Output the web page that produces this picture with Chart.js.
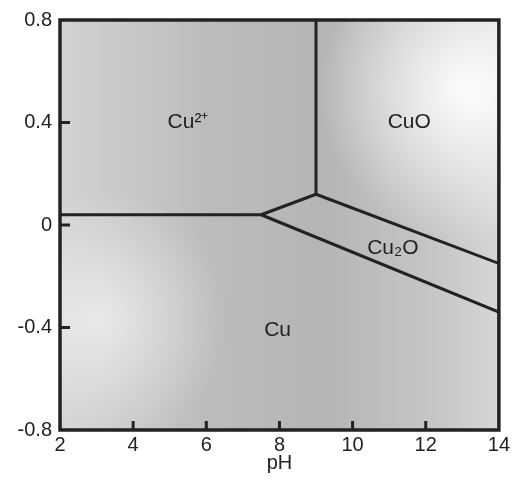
<!DOCTYPE html>
<html>
<head>
<meta charset="utf-8">
<script src="https://cdn.jsdelivr.net/npm/chart.js@4"></script>
<style>
  html, body { margin: 0; padding: 0; background: #fff; }
  #wrap { width: 513px; height: 484px; }
</style>
</head>
<body>
<div id="wrap"><canvas id="chart"></canvas></div>
<script>
// phase boundaries (pH, E in V)
const cu2CuPH = [2, 7.5];
const cu2CuE = [0.04, 0.04];
const cu2Cu2oPH = [7.5, 9.0];
const cu2Cu2oE = [0.04, 0.12];
const cu2CuoPH = [9.0, 9.0];
const cu2CuoE = [0.12, 0.8];
const cuoCu2oPH = [9.0, 14];
const cuoCu2oE = [0.12, -0.15];
const cu2oCuPH = [7.5, 14];
const cu2oCuE = [0.04, -0.34];

// region labels
const regionNames = ["Cu²⁺", "CuO", "Cu₂O", "Cu"];
const regionPH = [5.5, 11.55, 11.1, 7.95];
const regionE = [0.4, 0.4, -0.09, -0.41];

const xTicks = [2, 4, 6, 8, 10, 12, 14];
const yTicks = [-0.8, -0.4, 0, 0.4, 0.8];

const lineColor = "#222";
const textColor = "#222";
const fontFamily = "'Liberation Sans', Arial, sans-serif";

function toPoints(xs, ys) {
  return xs.map((x, i) => ({ x, y: ys[i] }));
}

function boundary(xs, ys) {
  return {
    data: toPoints(xs, ys),
    showLine: true,
    borderColor: lineColor,
    borderWidth: 3,
    pointRadius: 0,
    fill: false
  };
}

const backdrop = {
  id: "backdrop",
  beforeDraw(chart) {
    const { ctx, chartArea: a } = chart;
    const w = a.right - a.left, h = a.bottom - a.top;
    ctx.save();
    const g = ctx.createLinearGradient(a.left, 0, a.right, 0);
    g.addColorStop(0, "#d2d2d2");
    g.addColorStop(0.35, "#bbbbbb");
    g.addColorStop(0.6, "#b5b5b5");
    g.addColorStop(0.85, "#c6c6c6");
    g.addColorStop(1, "#d6d6d6");
    ctx.fillStyle = g;
    ctx.fillRect(a.left, a.top, w, h);
    const r = ctx.createRadialGradient(a.right - 30, a.top + 70, 10, a.right - 30, a.top + 70, 150);
    r.addColorStop(0, "rgba(255,255,255,0.9)");
    r.addColorStop(1, "rgba(255,255,255,0)");
    ctx.fillStyle = r;
    ctx.fillRect(a.left, a.top, w, h);
    const l = ctx.createRadialGradient(a.left + 40, a.bottom - 110, 5, a.left + 40, a.bottom - 110, 130);
    l.addColorStop(0, "rgba(255,255,255,0.55)");
    l.addColorStop(1, "rgba(255,255,255,0)");
    ctx.fillStyle = l;
    ctx.fillRect(a.left, a.top, w, h);
    ctx.restore();
  }
};

const frame = {
  id: "frame",
  afterDatasetsDraw(chart) {
    const { ctx, chartArea: a, scales } = chart;
    ctx.save();
    ctx.strokeStyle = lineColor;
    ctx.lineWidth = 3.5;
    ctx.strokeRect(a.left, a.top, a.right - a.left, a.bottom - a.top);
    ctx.lineWidth = 3;
    ctx.beginPath();
    yTicks.slice(1, -1).forEach((v) => {
      const y = scales.y.getPixelForValue(v);
      ctx.moveTo(a.left, y);
      ctx.lineTo(a.left + 10, y);
    });
    xTicks.slice(1, -1).forEach((v) => {
      const x = scales.x.getPixelForValue(v);
      ctx.moveTo(x, a.bottom);
      ctx.lineTo(x, a.bottom - 9);
    });
    ctx.stroke();
    ctx.fillStyle = textColor;
    ctx.font = "21px " + fontFamily;
    ctx.textAlign = "center";
    ctx.textBaseline = "middle";
    regionNames.forEach((name, i) => {
      ctx.fillText(name, scales.x.getPixelForValue(regionPH[i]), scales.y.getPixelForValue(regionE[i]));
    });
    ctx.restore();
  }
};

new Chart(document.getElementById("chart"), {
  type: "scatter",
  data: {
    datasets: [
      boundary(cu2CuPH, cu2CuE),
      boundary(cu2Cu2oPH, cu2Cu2oE),
      boundary(cu2CuoPH, cu2CuoE),
      boundary(cuoCu2oPH, cuoCu2oE),
      boundary(cu2oCuPH, cu2oCuE)
    ]
  },
  options: {
    responsive: true,
    maintainAspectRatio: false,
    animation: false,
    layout: { padding: { left: 0, right: 11, top: 18, bottom: 0 } },
    plugins: { legend: { display: false }, tooltip: { enabled: false } },
    scales: {
      x: {
        type: "linear",
        min: 2,
        max: 14,
        afterFit: (s) => { s.height = 54; },
        afterBuildTicks: (s) => { s.ticks = xTicks.map((v) => ({ value: v })); },
        grid: { display: false, drawTicks: false },
        border: { display: false },
        ticks: { color: textColor, padding: 3, font: { family: fontFamily, size: 20 } },
        title: { display: true, text: "pH", color: textColor, padding: { top: 0, bottom: 9 }, font: { family: fontFamily, size: 20 } }
      },
      y: {
        type: "linear",
        min: -0.8,
        max: 0.8,
        afterFit: (s) => { s.width = 60; },
        afterBuildTicks: (s) => { s.ticks = yTicks.map((v) => ({ value: v })); },
        grid: { display: false, drawTicks: false },
        border: { display: false },
        ticks: {
          color: textColor,
          padding: 8,
          font: { family: fontFamily, size: 20 },
          callback: (v) => (v === 0 ? "0" : String(Number(v.toFixed(1))))
        }
      }
    }
  },
  plugins: [backdrop, frame]
});
</script>
</body>
</html>
